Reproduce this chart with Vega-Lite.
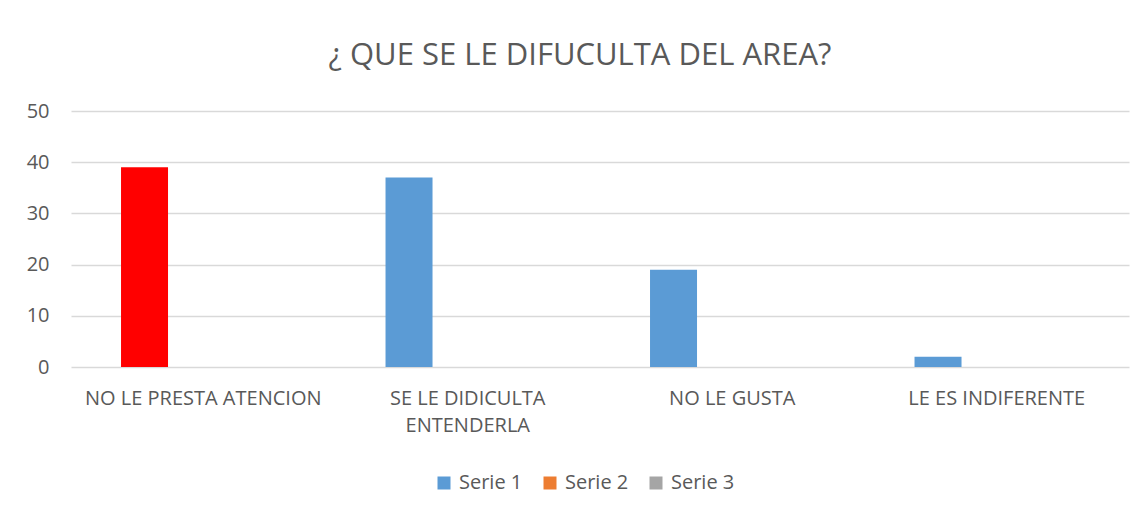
{
  "$schema": "https://vega.github.io/schema/vega-lite/v6.json",
  "autosize": "none",
  "width": 1058,
  "height": 256,
  "padding": {"left": 71, "top": 111, "right": 18, "bottom": 148},
  "background": "#FFFFFF",
  "title": {
    "text": "¿ QUE SE LE DIFUCULTA DEL AREA?",
    "font": "Open Sans",
    "fontSize": 31,
    "fontWeight": "normal",
    "color": "#595959",
    "anchor": "middle",
    "baseline": "alphabetic",
    "offset": 5,
    "dx": -20
  },
  "data": {
    "values": [
      {"categoria": "NO LE PRESTA ATENCION", "serie": "Serie 1", "valor": 39},
      {"categoria": "SE LE DIDICULTA ENTENDERLA", "serie": "Serie 1", "valor": 37},
      {"categoria": "NO LE GUSTA", "serie": "Serie 1", "valor": 19},
      {"categoria": "LE ES INDIFERENTE", "serie": "Serie 1", "valor": 2}
    ]
  },
  "mark": {"type": "bar"},
  "encoding": {
    "x": {
      "field": "categoria",
      "type": "nominal",
      "sort": null,
      "scale": {"paddingInner": 0, "paddingOuter": 0},
      "axis": {
        "title": null,
        "labelAngle": 0,
        "labelFont": "Open Sans",
        "labelFontSize": 20,
        "labelColor": "#595959",
        "labelPadding": 21,
        "labelLimit": 400,
        "labelLineHeight": 27,
        "labelExpr": "datum.label == 'SE LE DIDICULTA ENTENDERLA' ? ['SE LE DIDICULTA', 'ENTENDERLA'] : datum.label",
        "ticks": false,
        "domain": false,
        "grid": false
      }
    },
    "xOffset": {
      "field": "serie",
      "type": "nominal",
      "scale": {"domain": ["Serie 1", "Serie 2", "Serie 3"], "paddingInner": 0.1356, "paddingOuter": 1, "align": 0.46}
    },
    "y": {
      "field": "valor",
      "type": "quantitative",
      "scale": {"domain": [0, 50], "nice": false},
      "axis": {
        "title": null,
        "values": [0, 10, 20, 30, 40, 50],
        "labelFont": "Open Sans",
        "labelFontSize": 20,
        "labelColor": "#595959",
        "labelPadding": 22,
        "ticks": false,
        "domain": false,
        "grid": true,
        "gridColor": "#D9D9D9",
        "gridWidth": 1.3
      }
    },
    "color": {
      "field": "serie",
      "type": "nominal",
      "condition": {"test": "datum.categoria === 'NO LE PRESTA ATENCION'", "value": "#FF0000"},
      "scale": {"domain": ["Serie 1", "Serie 2", "Serie 3"], "range": ["#5B9BD5", "#ED7D31", "#A5A5A5"]},
      "legend": {
        "title": null,
        "orient": "none",
        "direction": "horizontal",
        "legendX": 363,
        "legendY": 362,
        "symbolType": "square",
        "symbolSize": 169,
        "symbolStrokeWidth": 0,
        "labelFont": "Open Sans",
        "labelFontSize": 20,
        "labelColor": "#595959",
        "labelOffset": 5,
        "columnPadding": 17
      }
    }
  },
  "config": {
    "view": {"stroke": null}
  }
}
